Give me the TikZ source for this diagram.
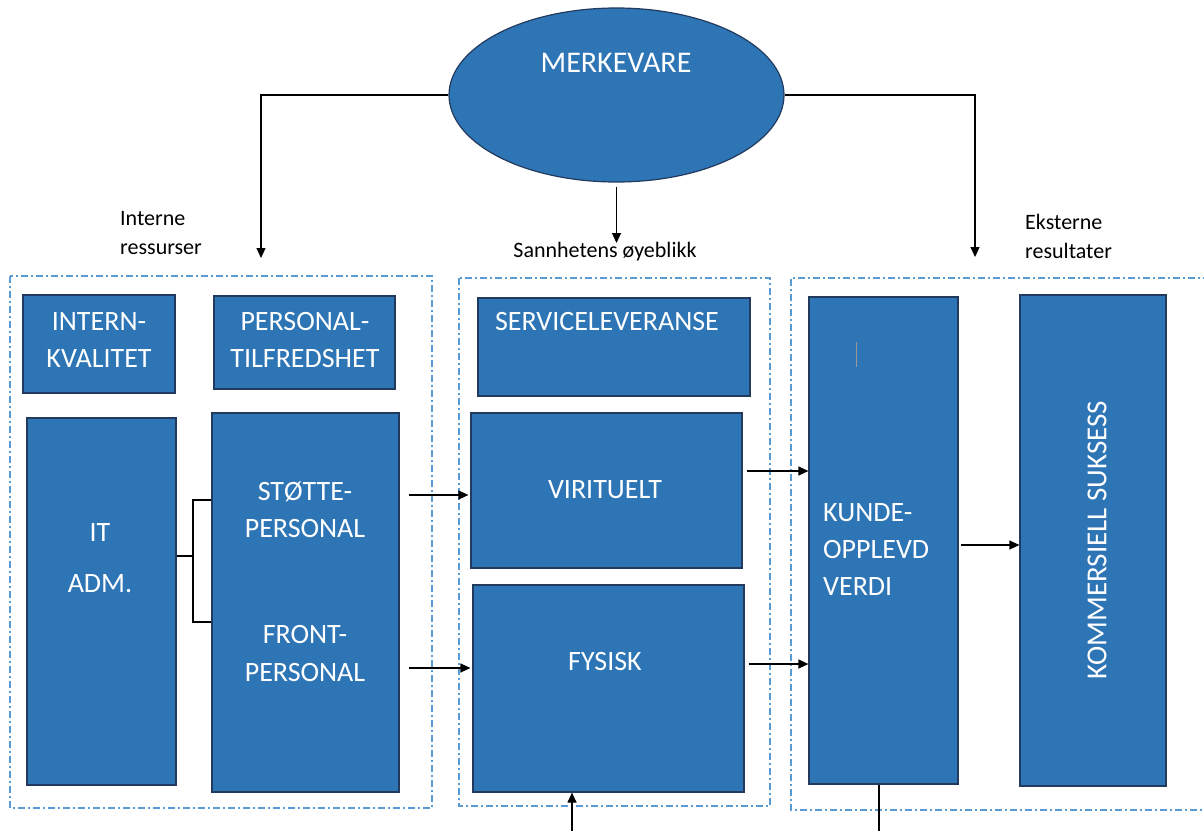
\documentclass[tikz,border=0pt]{standalone}
\usepackage{fontspec}
\setmainfont{Carlito}
\usetikzlibrary{arrows.meta,shapes.geometric,calc}
\definecolor{boxblue}{HTML}{2E75B6}
\definecolor{boxedge}{HTML}{223A5E}
\definecolor{dashblue}{HTML}{5B9BD5}
\begin{document}
\begin{tikzpicture}[x=1pt,y=-1pt,
  bluebox/.style={draw=boxedge, line width=1.2pt, fill=boxblue, inner sep=0pt},
  btext/.style={text=white, font=\fontsize{28}{37}\selectfont, align=center, inner sep=0pt},
  ltext/.style={text=black, font=\fontsize{22}{29}\selectfont, align=left, inner sep=0pt},
  conn/.style={draw=black, line width=1.2pt},
  arr/.style={conn, -{Triangle[length=10pt,width=9pt]}},
  group/.style={draw=dashblue, line width=1.3pt, dash pattern=on 7pt off 3pt on 2pt off 3pt}]

\useasboundingbox[fill=white] (0,0) rectangle (1204,830);

% group frames
\draw[group] (10,276) rectangle (432,808);
\draw[group] (459,278) rectangle (770,806);
\draw[group] (1210,278) -- (791,278) -- (791,810) -- (1210,810);

% top ellipse
\node[ellipse, bluebox, minimum width=335pt, minimum height=174pt] (me) at (616.5,95) {};
\node[btext, font=\fontsize{30}{36}\selectfont] (met) at (616,63) {MERKEVARE};

% labels
\node[ltext, anchor=west] (lint) at (120,233) {Interne\\ressurser};
\node[ltext, anchor=center] (lsan) at (605,252) {Sannhetens øyeblikk};
\node[ltext, anchor=west] (leks) at (1025,236) {Eksterne\\resultater};

% left group
\node[bluebox, minimum width=152pt, minimum height=98pt] (ik) at (99,344) {};
\node[btext] (ikt) at (99,340) {INTERN-\\KVALITET};
\node[bluebox, minimum width=181pt, minimum height=93pt] (pt) at (304.5,342.5) {};
\node[btext] (ptt) at (305,340) {PERSONAL-\\TILFREDSHET};
\node[bluebox, minimum width=149pt, minimum height=367pt] (it) at (101.5,601.5) {};
\node[btext, font=\fontsize{28}{51}\selectfont] (itt) at (100,558) {IT\\ADM.};
\node[bluebox, minimum width=187pt, minimum height=379pt] (sf) at (305.5,602.5) {};
\node[btext] (sft) at (305,510) {STØTTE-\\PERSONAL};
\node[btext] (fpt) at (305,653.5) {FRONT-\\PERSONAL};

% middle group
\node[bluebox, minimum width=272pt, minimum height=98pt] (sl) at (614,347) {};
\node[btext] (slt) at (607,322) {SERVICELEVERANSE};
\node[bluebox, minimum width=271pt, minimum height=155pt] (vi) at (606.5,490.5) {};
\node[btext] (vit) at (605,490) {VIRITUELT};
\node[bluebox, minimum width=271pt, minimum height=207pt] (fy) at (608.5,688.5) {};
\node[btext] (fyt) at (605,662) {FYSISK};

% right group
\node[bluebox, minimum width=149pt, minimum height=487pt] (kv) at (883.5,540.5) {};
\node[btext, align=left, anchor=west] (kvt) at (823,549.5) {KUNDE-\\OPPLEVD\\VERDI};
\draw[gray!80, line width=1pt] (856,342) -- (856,367);
\node[bluebox, minimum width=146pt, minimum height=491pt] (ks) at (1093,540.5) {};
\node[btext, rotate=90, font=\fontsize{29}{34}\selectfont] (kst) at (1097,540) {KOMMERSIELL SUKSESS};

% connectors from ellipse
\coordinate (aL) at (261,258);
\coordinate (aM) at (616.5,243);
\coordinate (aR) at (975,257);
\draw[arr] (me.west) -| (aL);
\draw[arr] (me.east) -| (aR);
\draw[arr, shorten <=4pt] (me.south) -- (me.south |- aM);

% bracket
\coordinate (br) at (193,556);
\draw[conn] (sf.west |- 0,500) -- (br |- 0,500) -- (br |- 0,622) -- (sf.west |- 0,622);
\draw[conn] (it.east |- br) -- (br);

% arrows between boxes
\draw[arr, shorten <=9pt, shorten >=2pt] (sf.east |- 0,495) -- (vi.west |- 0,495);
\draw[arr, shorten <=9pt, shorten >=2pt] (sf.east |- 0,668) -- (fy.west |- 0,668);
\draw[arr, shorten <=4pt] (vi.east |- 0,471) -- (kv.west |- 0,471);
\draw[arr, shorten <=4pt] (fy.east |- 0,664) -- (kv.west |- 0,664);
\draw[arr, shorten <=2pt] (kv.east |- 0,545) -- (ks.west |- 0,545);

% bottom lines
\coordinate (fb) at (572,832);
\draw[arr] (fb) -- (fy.south -| fb);
\coordinate (kb) at (879,832);
\draw[conn] (kv.south -| kb) -- (kb);
\end{tikzpicture}
\end{document}
